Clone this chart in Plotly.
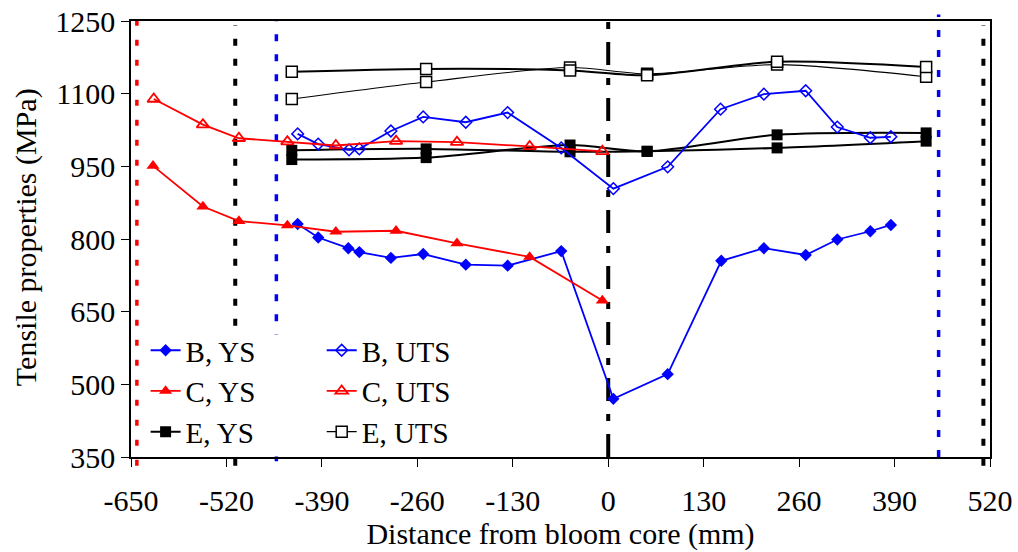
import plotly.graph_objects as go

# ---------------- data ----------------
b_ys_x = [-423, -395, -354, -339, -296, -252, -194, -137, -64, 7, 81, 154, 212, 269, 312, 357, 385]
b_ys_y = [831, 803, 781, 773, 761, 769, 747, 745, 775, 470, 521, 755, 781, 767, 799, 816, 829]

b_uts_x = [-423, -395, -353, -339, -296, -252, -194, -137, -64, 7, 81, 153, 212, 269, 312, 357, 385]
b_uts_y = [1017, 996, 984, 986, 1023, 1052, 1041, 1061, 988, 904, 949, 1068, 1099, 1106, 1031, 1009, 1011]

c_ys_x = [-620, -552, -503, -437, -371, -289, -206, -107, -8]
c_ys_y = [951, 867, 837, 828, 815, 817, 791, 763, 673]

c_uts_x = [-619, -552, -503, -437, -371, -289, -206, -107, -8]
c_uts_y = [1089, 1036, 1008, 1001, 993, 1002, 1000, 991, 981]

e_x = [-431, -248, -52, 53, 230, 433]
e_ys_a = [983, 986, 980, 981, 988, 1002]
e_ys_b = [964, 968, 994, 981, 1015, 1019]
e_uts_a = [1145, 1151, 1148, 1138, 1166, 1155]
e_uts_b = [1089, 1124, 1154, 1141, 1160, 1135]

x_ticks = [-650, -520, -390, -260, -130, 0, 130, 260, 390, 520]
y_ticks = [350, 500, 650, 800, 950, 1100, 1250]

# boundary lines (mm) : position, colour, dash, width, y0, y1 (paper)
bounds = [
    (-642, "#FF0000", "6px,14px", 3.5, -0.02, 1.0),
    (-508, "#000000", "7px,13px", 4, -0.02, 0.99),
    (-452, "#0000FF", "7px,13px", 3.5, -0.01, 1.0),
    (0, "#000000", "23px,13px,7px,13px", 4, 0.0, 1.0),
    (450, "#0000FF", "7px,13px", 3.5, 0.0, 1.015),
    (511, "#000000", "7px,13px", 4, -0.02, 0.99),
]

FONT = "Liberation Serif, Times New Roman, serif"

fig = go.Figure()

# legend 1 (left column)
fig.add_trace(go.Scatter(x=b_ys_x, y=b_ys_y, name="B, YS", mode="lines+markers",
                         line=dict(color="#0000FF", width=1.8),
                         marker=dict(symbol="diamond", size=9.5, color="#0000FF"),
                         legend="legend"))
fig.add_trace(go.Scatter(x=c_ys_x, y=c_ys_y, name="C, YS", mode="lines+markers",
                         line=dict(color="#FF0000", width=1.8),
                         marker=dict(symbol="triangle-up", size=11.5, color="#FF0000"),
                         legend="legend"))
fig.add_trace(go.Scatter(x=e_x, y=e_ys_a, name="E, YS", mode="lines+markers",
                         line=dict(color="#000000", width=2, shape="spline", smoothing=0.8),
                         marker=dict(symbol="square", size=11, color="#000000"),
                         legend="legend"))
fig.add_trace(go.Scatter(x=e_x, y=e_ys_b, name="E, YS", mode="lines+markers",
                         line=dict(color="#000000", width=2, shape="spline", smoothing=0.8),
                         marker=dict(symbol="square", size=11, color="#000000"),
                         showlegend=False))

# legend 2 (right column)
fig.add_trace(go.Scatter(x=b_uts_x, y=b_uts_y, name="B, UTS", mode="lines+markers",
                         line=dict(color="#0000FF", width=1.8),
                         marker=dict(symbol="diamond-open", size=9, color="#0000FF",
                                     line=dict(width=1.5)),
                         legend="legend2"))
fig.add_trace(go.Scatter(x=c_uts_x, y=c_uts_y, name="C, UTS", mode="lines+markers",
                         line=dict(color="#FF0000", width=1.8),
                         marker=dict(symbol="triangle-up-open", size=11, color="#FF0000",
                                     line=dict(width=1.8)),
                         legend="legend2"))
fig.add_trace(go.Scatter(x=e_x, y=e_uts_b, name="E, UTS", mode="lines+markers",
                         line=dict(color="#000000", width=1.1, shape="spline", smoothing=0.8),
                         marker=dict(symbol="square", size=11, color="#FFFFFF",
                                     line=dict(color="#000000", width=1.5)),
                         legend="legend2"))
fig.add_trace(go.Scatter(x=e_x, y=e_uts_a, name="E, UTS", mode="lines+markers",
                         line=dict(color="#000000", width=2, shape="spline", smoothing=0.8),
                         marker=dict(symbol="square", size=11, color="#FFFFFF",
                                     line=dict(color="#000000", width=1.5)),
                         showlegend=False))

for xv, col, dash, w, y0, y1 in bounds:
    fig.add_shape(type="line", xref="x", yref="paper", x0=xv, x1=xv, y0=y0, y1=y1,
                  line=dict(color=col, dash=dash, width=w), layer="below")

# white legend panel hiding the boundary lines behind the legend (as in the reference)
fig.add_shape(type="rect", xref="x", yref="y", x0=-628, x1=-150, y0=351, y1=603,
              fillcolor="#FFFFFF", line=dict(width=0), layer="below")

legend_common = dict(font=dict(family=FONT, size=29, color="#000000"),
                     bgcolor="rgba(255,255,255,0)", borderwidth=0,
                     orientation="v", xanchor="left", yanchor="top",
                     tracegroupgap=0, itemsizing="trace")

# y-axis title as an annotation so it can sit at the far left like the reference
fig.add_annotation(text="Tensile properties (MPa)", xref="paper", yref="paper",
                   x=-0.123, y=0.505, xanchor="center", yanchor="middle",
                   textangle=-90, showarrow=False,
                   font=dict(family=FONT, size=30, color="#000000"))

fig.update_layout(
    width=1018, height=552,
    margin=dict(l=131, r=28, t=21, b=95),
    paper_bgcolor="#FFFFFF", plot_bgcolor="#FFFFFF",
    font=dict(family=FONT, size=30, color="#000000"),
    showlegend=True,
    legend=dict(x=0.017, y=0.303, **legend_common),
    legend2=dict(x=0.222, y=0.303, **legend_common),
    xaxis=dict(range=[-650, 520], tickvals=x_ticks, ticktext=[str(v) for v in x_ticks],
               showgrid=False, zeroline=False, showline=True, linecolor="#000000",
               linewidth=1.5, mirror=True, ticks="outside", ticklen=8, tickwidth=1,
               tickcolor="#000000", tickfont=dict(family=FONT, size=30, color="#000000"),
               ticklabelstandoff=8, automargin=False,
               title=dict(text="Distance from bloom core (mm)", standoff=6,
                          font=dict(family=FONT, size=30, color="#000000"))),
    yaxis=dict(range=[350, 1250], tickvals=y_ticks, ticktext=[str(v) for v in y_ticks],
               showgrid=False, zeroline=False, showline=True, linecolor="#000000",
               linewidth=1.5, mirror=True, ticks="outside", ticklen=8, tickwidth=1,
               tickcolor="#000000", tickfont=dict(family=FONT, size=30, color="#000000"),
               automargin=False),
)

# remove the browser's default 8px body margin so the figure sits at the page origin
fig.write_html("out.html", config={"displayModeBar": False},
               post_script="document.body.style.margin='0';")
